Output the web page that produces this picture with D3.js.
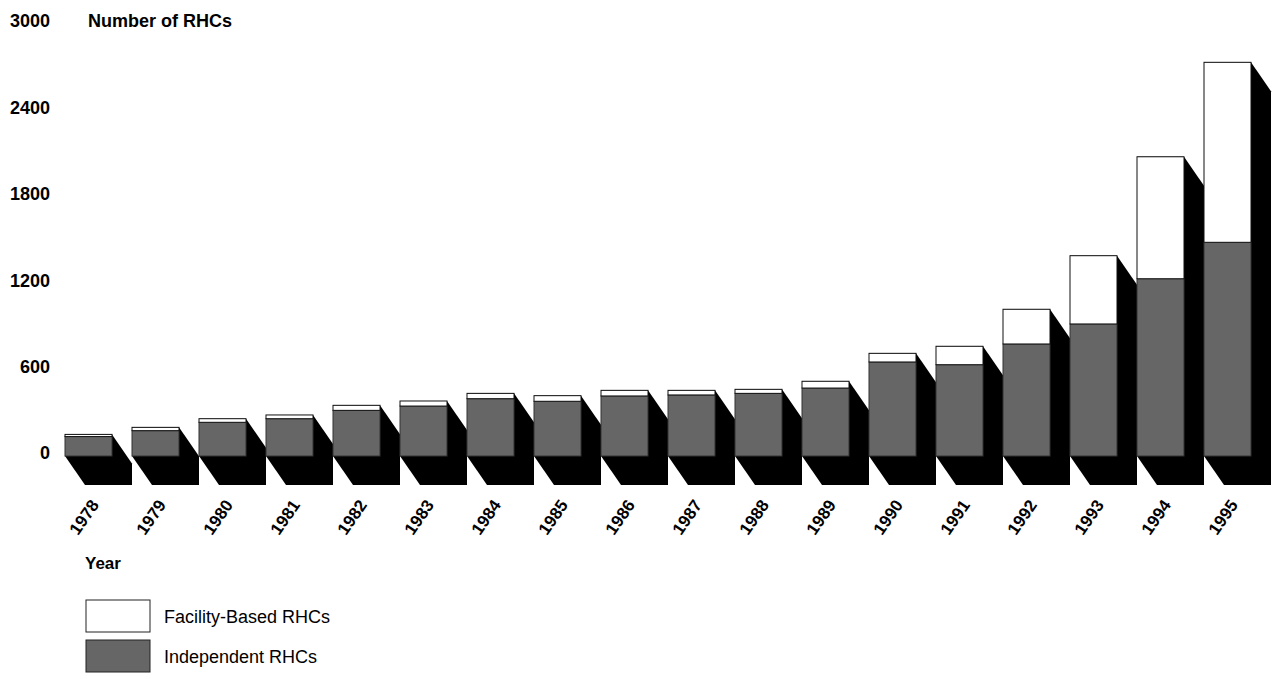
<!DOCTYPE html>
<html>
<head>
<meta charset="utf-8">
<script src="https://cdn.jsdelivr.net/npm/d3@7"></script>
<style>
  html, body { margin: 0; padding: 0; background: #fff; }
  svg { display: block; font-family: "Liberation Sans", Arial, sans-serif; }
</style>
</head>
<body>
<svg id="chart" width="1273" height="679"></svg>
<script>
const years = ["1978","1979","1980","1981","1982","1983","1984","1985","1986","1987","1988","1989","1990","1991","1992","1993","1994","1995"];
const independent = [135, 176, 234, 259, 317, 347, 398, 380, 417, 424, 435, 472, 653, 634, 778, 917, 1231, 1484];
const facilityBased = [15, 23, 25, 26, 35, 35, 37, 39, 39, 32, 28, 47, 60, 128, 241, 474, 847, 1250];
const yTicks = [0, 600, 1200, 1800, 2400, 3000];
const seriesNames = ["Facility-Based RHCs", "Independent RHCs"];

const svg = d3.select("#chart");
const x = d3.scaleBand().domain(years).range([65, 1251]).paddingInner(20 / 67).paddingOuter(0);
const y = d3.scaleLinear().domain([0, 3000]).range([456, 24]);
const dx = 20, dy = 29;

const data = years.map((yr, i) => ({ year: yr, ind: independent[i], fac: facilityBased[i], total: independent[i] + facilityBased[i] }));

// shadows
svg.append("g").selectAll("path").data(data).join("path")
  .attr("d", d => {
    const x0 = x(d.year), x1 = x0 + x.bandwidth();
    const top = y(d.total), y0 = y(0);
    return `M${x0},${top}L${x1},${top}L${x1 + dx},${top + dy}L${x1 + dx},${y0 + dy}L${x0 + dx},${y0 + dy}L${x0},${y0}Z`;
  })
  .attr("fill", "#000");

// independent (bottom segment)
svg.append("g").selectAll("rect").data(data).join("rect")
  .attr("x", d => x(d.year))
  .attr("y", d => y(d.ind))
  .attr("width", x.bandwidth())
  .attr("height", d => y(0) - y(d.ind))
  .attr("fill", "#666")
  .attr("stroke", "#333")
  .attr("stroke-width", 1);

// facility-based (top segment)
svg.append("g").selectAll("rect").data(data).join("rect")
  .attr("x", d => x(d.year))
  .attr("y", d => y(d.total))
  .attr("width", x.bandwidth())
  .attr("height", d => y(d.ind) - y(d.total))
  .attr("fill", "#fff")
  .attr("stroke", "#111")
  .attr("stroke-width", 1);

// y tick labels
svg.append("g").selectAll("text").data(yTicks).join("text")
  .attr("x", 50)
  .attr("y", d => y(d) - 3)
  .attr("dy", "0.35em")
  .attr("text-anchor", "end")
  .attr("font-size", 18)
  .attr("font-weight", "bold")
  .text(d => d);

svg.append("text")
  .attr("x", 88).attr("y", 21).attr("dy", "0.35em")
  .attr("font-size", 18).attr("font-weight", "bold")
  .text("Number of RHCs");

// x labels
svg.append("g").selectAll("text").data(years).join("text")
  .attr("transform", d => `translate(${x(d) + x.bandwidth() / 2 - 4.5},517) rotate(-55)`)
  .attr("text-anchor", "middle")
  .attr("dy", "0.35em")
  .attr("font-size", 17)
  .attr("font-weight", "bold")
  .text(d => d);

svg.append("text")
  .attr("x", 85).attr("y", 563).attr("dy", "0.35em")
  .attr("font-size", 17).attr("font-weight", "bold")
  .text("Year");

// legend
const legendFills = ["#fff", "#666"];
const lg = svg.append("g").selectAll("g").data(seriesNames).join("g")
  .attr("transform", (d, i) => `translate(86,${600 + i * 40})`);
lg.append("rect").attr("width", 64).attr("height", 32)
  .attr("fill", (d, i) => legendFills[i]).attr("stroke", "#222").attr("stroke-width", 1);
lg.append("text").attr("x", 78).attr("y", 17).attr("dy", "0.35em")
  .attr("font-size", 18).text(d => d);
</script>
</body>
</html>
